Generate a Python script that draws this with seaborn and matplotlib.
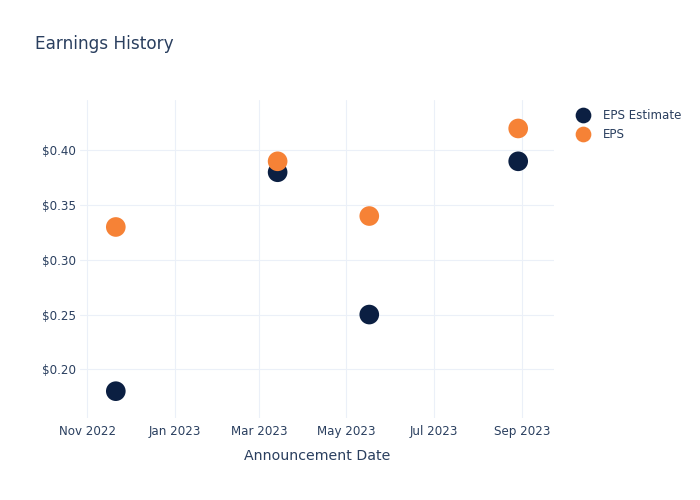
import matplotlib
matplotlib.use("Agg")
import matplotlib.pyplot as plt
import matplotlib.ticker as mticker
import seaborn as sns
import pandas as pd

dates = ["2022-11-21", "2023-03-14", "2023-05-17", "2023-08-29"]
eps_estimate = [0.18, 0.38, 0.25, 0.39]
eps_actual = [0.33, 0.39, 0.34, 0.42]
series_names = ["EPS Estimate", "EPS"]
tick_dates = ["2022-11-01", "2023-01-01", "2023-03-01", "2023-05-01", "2023-07-01", "2023-09-01"]
tick_labels = ["Nov 2022", "Jan 2023", "Mar 2023", "May 2023", "Jul 2023", "Sep 2023"]
y_ticks = [0.20, 0.25, 0.30, 0.35, 0.40]

df = pd.DataFrame({
    "date": pd.to_datetime(dates * 2),
    "value": eps_estimate + eps_actual,
    "series": [series_names[0]] * len(dates) + [series_names[1]] * len(dates),
})

sns.set_theme(style="white")
plt.rcParams["font.family"] = ["DejaVu Sans"]
text_color = "#2a3f5f"
grid_color = "#ebf0f8"
palette = {"EPS Estimate": "#0b1f42", "EPS": "#f68236"}

fig = plt.figure(figsize=(7, 5), dpi=100)
ax = fig.add_axes([80 / 700, 1 - 418 / 500, (554 - 80) / 700, (418 - 100) / 500])

sns.scatterplot(data=df, x="date", y="value", hue="series", hue_order=series_names,
                palette=palette, s=200, edgecolor="none", linewidth=0, ax=ax, zorder=3)

ax.set_xlim(pd.Timestamp("2022-10-27"), pd.Timestamp("2023-09-23"))
ax.set_ylim(0.1555, 0.446)
ax.set_xticks(pd.to_datetime(tick_dates))
ax.set_xticklabels(tick_labels)
ax.set_yticks(y_ticks)
ax.yaxis.set_major_formatter(mticker.FuncFormatter(lambda v, p: f"${v:.2f}"))
ax.grid(True, color=grid_color, linewidth=0.8)
ax.set_axisbelow(True)
for sp in ax.spines.values():
    sp.set_visible(False)
ax.tick_params(axis="both", length=0, labelsize=8.6, colors=text_color)
ax.tick_params(axis="x", pad=5)
ax.tick_params(axis="y", pad=3)
ax.set_xlabel("Announcement Date", fontsize=10.2, color=text_color, labelpad=8)
ax.set_ylabel("")

fig.text(35 / 700, 1 - 44 / 500, "Earnings History", fontsize=12.2, color=text_color,
         ha="left", va="center")

handles, labels = ax.get_legend_handles_labels()
if ax.legend_:
    ax.legend_.remove()
fig.legend(handles, labels, loc="upper left", bbox_to_anchor=(566 / 700, 1 - 104 / 500),
           frameon=False, fontsize=8.6, labelcolor=text_color, handletextpad=0.7,
           labelspacing=0.55, markerscale=0.8, borderaxespad=0)

fig.savefig("out.png", dpi=100)
